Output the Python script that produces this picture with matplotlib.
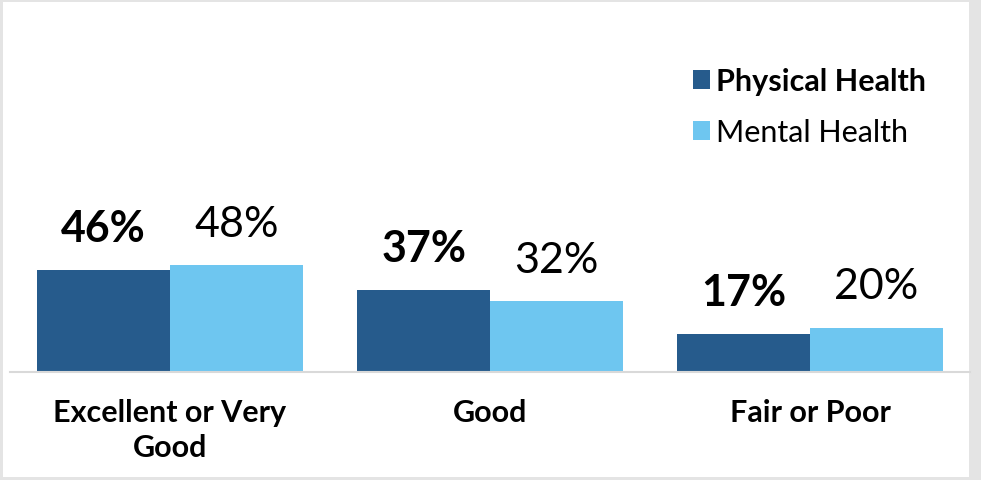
import matplotlib
matplotlib.use("Agg")
import matplotlib.pyplot as plt
from matplotlib.patches import Rectangle, Patch
import numpy as np

plt.rcParams['font.family'] = ['Lato', 'DejaVu Sans']

categories = ["Excellent or Very\nGood", "Good", "Fair or Poor"]
physical = [46, 37, 17]
mental = [48, 32, 20]
series_names = ["Physical Health", "Mental Health"]

DARK = "#265B8C"
LIGHT = "#6EC6F0"
FRAME = "#E4E4E4"

W, H = 981, 481
fig = plt.figure(figsize=(W / 100, H / 100), dpi=100)
fig.patch.set_facecolor(FRAME)
# white card inside the grey frame
fig.patches.append(Rectangle((3 / W, 3 / H), 966 / W, 475 / H,
                             transform=fig.transFigure, facecolor="white",
                             edgecolor="none", zorder=-5))

ax = fig.add_axes([10 / W, 108 / H, 960 / W, 353 / H])
ax.set_facecolor("none")
ax.set_zorder(2)

x = np.arange(len(categories))
bw = 0.415
b1 = ax.bar(x - bw / 2, physical, bw, color=DARK, label=series_names[0])
b2 = ax.bar(x + bw / 2, mental, bw, color=LIGHT, label=series_names[1])

for rect, v in zip(b1, physical):
    ax.annotate(f"{v}%", (rect.get_x() + rect.get_width() / 2, v),
                xytext=(0, 16), textcoords="offset points",
                ha="center", va="bottom", fontsize=31, fontweight="bold")
for rect, v in zip(b2, mental):
    ax.annotate(f"{v}%", (rect.get_x() + rect.get_width() / 2, v),
                xytext=(0, 16), textcoords="offset points",
                ha="center", va="bottom", fontsize=31)

ax.set_xlim(-0.5, 2.5)
ax.set_ylim(0, 159)
ax.set_yticks([])
ax.set_xticks(x)
ax.set_xticklabels(categories, fontsize=22, fontweight="bold", linespacing=1.3)
ax.tick_params(axis="x", length=0, pad=19)
for s in ["top", "right", "left"]:
    ax.spines[s].set_visible(False)
ax.spines["bottom"].set_color("#D9D9D9")
ax.spines["bottom"].set_linewidth(1.5)

handles = [Patch(facecolor=DARK, edgecolor="none"), Patch(facecolor=LIGHT, edgecolor="none")]
leg = fig.legend(handles, series_names, loc="upper left",
                 bbox_to_anchor=(681 / W, 1 - 56 / H), frameon=False,
                 fontsize=22, handlelength=0.55, handleheight=0.55,
                 handletextpad=0.2, labelspacing=0.75, borderaxespad=0)
leg.get_texts()[0].set_fontweight("bold")
leg.set_zorder(3)

fig.savefig("out.png", dpi=100, facecolor=fig.get_facecolor())
